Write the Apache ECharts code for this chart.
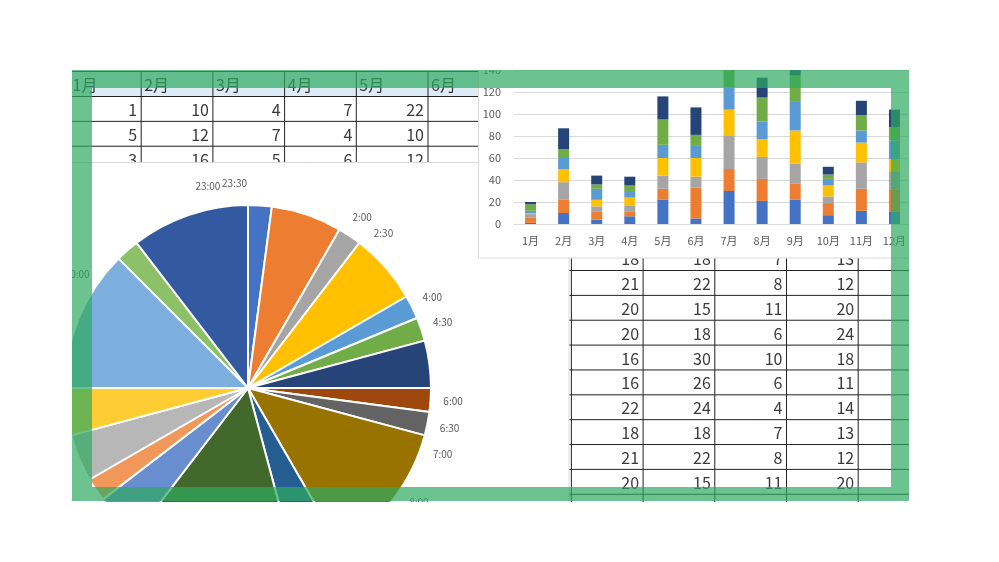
<!DOCTYPE html>
<html><head><meta charset="utf-8">
<script src="https://cdn.jsdelivr.net/npm/echarts@6/dist/echarts.min.js"></script>
<style>html,body{margin:0;padding:0;background:#fff}#c{width:999px;height:562px}</style>
</head><body><div id="c"></div>
<script>
// ---- data ----
const months = ['1月','2月','3月','4月','5月','6月','7月','8月','9月','10月','11月','12月'];
const row1 = [1,10,4,7,22,5,30,21,22,8,12,11];
const row2 = [5,12,7,4,10,28,20,20,15,11,20,20];
const row3 = [3,16,5,6,12,10,30,20,18,6,24,17];
const row4 = [1,12,6,7,16,17,24,16,30,10,18,11];
const row5 = [2,10,10,6,12,11,20,16,26,6,11,17];
const row6 = [6,8,4,5,23,10,16,22,24,4,14,12];
const row7 = [2,19,8,8,21,25,20,18,18,7,13,16];
const yTicks = [0,20,40,60,80,100,120,140];
// pie: half-hour slots per slice (48 slots = 24h)
const pieSlots = [1,3,1,3,1,1,2,1,1,6,2,7,2,1,2,2,6,1,5];
const clockLabels = ['20:00','23:00','23:30','2:00','2:30','4:00','4:30','6:00','6:30','7:00','8:00'];

// ---- styles ----
const rows = [row1,row2,row3,row4,row5,row6,row7];
const barColors = ['#4472C4','#ED7D31','#A5A5A5','#FFC000','#5B9BD5','#70AD47','#264478'];
const pieColors = ['#4472C4','#ED7D31','#A5A5A5','#FFC000','#5B9BD5','#70AD47','#264478',
  '#9E480E','#636363','#997300','#255E91','#43682B','#698ED0','#F1975A','#B7B7B7','#FFCD33',
  '#7CAFDD','#8CC168','#335AA1'];
const FONT = "'Noto Sans CJK JP','Noto Sans',sans-serif";

const slotNames = [];
for (let i = 0; i < 48; i++) slotNames.push(Math.floor(i/2) + ':' + (i%2 ? '30' : '00'));

// ---- spreadsheet (graphic) ----
const colX0 = 69.5, colW = 71.7, tableTop = 71.5, headerH = 25, rowH = 24.86, nRows = 18;
const tableRight = colX0 + 12*colW;
const tableBottom = tableTop + headerH + nRows*rowH;
const g = [];
g.push({type:'rect', z:1, silent:true, shape:{x:colX0, y:tableTop, width:12*colW, height:headerH}, style:{fill:'#DDEBF7'}});
const hl = (y)=>g.push({type:'line', z:1, silent:true, shape:{x1:colX0, y1:y, x2:tableRight, y2:y}, style:{stroke:'#222', lineWidth:1}});
hl(tableTop);
for (let k = 0; k <= nRows; k++) hl(tableTop + headerH + k*rowH);
for (let j = 0; j <= 12; j++) {
  const x = colX0 + j*colW;
  g.push({type:'line', z:1, silent:true, shape:{x1:x, y1:tableTop, x2:x, y2:tableBottom}, style:{stroke:'#222', lineWidth:1}});
}
months.forEach((m, j) => {
  g.push({type:'text', z:1, silent:true, style:{x: colX0 + j*colW + 3, y: tableTop + headerH/2 + 1, text:m, fill:'#333', font:'16px ' + FONT, textAlign:'left', textVerticalAlign:'middle'}});
});
for (let r = 0; r < nRows; r++) {
  const data = rows[r % 7];
  const yc = tableTop + headerH + r*rowH + rowH/2 + 1;
  for (let j = 0; j < 12; j++) {
    g.push({type:'text', z:1, silent:true, style:{x: colX0 + (j+1)*colW - 4, y: yc, text:String(data[j]), fill:'#3a3a3a', font:'16px ' + FONT, textAlign:'right', textVerticalAlign:'middle'}});
  }
}
// chart object boxes
g.push({type:'rect', z:2, silent:true, shape:{x:40, y:162.5, width:529, height:420}, style:{fill:'#fff', stroke:'#D9D9D9', lineWidth:1}});
g.push({type:'rect', z:4, silent:true, shape:{x:478.5, y:30, width:520, height:228}, style:{fill:'#fff', stroke:'#D9D9D9', lineWidth:1}});
// screenshot clipping masks
[[0,0,72,562],[909,0,90,562],[0,0,999,70],[0,502,999,60]].forEach(r=>{
  g.push({type:'rect', z:10, silent:true, shape:{x:r[0], y:r[1], width:r[2], height:r[3]}, style:{fill:'#fff'}});
});
// green frame
const band = 'rgba(46,170,96,0.7)';
[[72,70,837,18],[72,487,837,14],[72,88,20,399],[891,88,18,399]].forEach(r=>{
  g.push({type:'rect', z:11, silent:true, shape:{x:r[0], y:r[1], width:r[2], height:r[3]}, style:{fill:band}});
});

// ---- chart ----
const chart = echarts.init(document.getElementById('c'), null, {renderer:'canvas'});
const series = [
  {
    type:'pie', z:3, silent:true, animation:false,
    center:[248,388], radius:183, startAngle:90, clockwise:true,
    label:{show:false}, labelLine:{show:false},
    itemStyle:{borderColor:'#fff', borderWidth:2},
    data: pieSlots.map((v,i)=>({value:v, name:'項目'+(i+1), itemStyle:{color:pieColors[i]}}))
  },
  {
    type:'pie', z:3, silent:true, animation:false,
    center:[248,388], radius:[191,214], startAngle:90, clockwise:true,
    minShowLabelAngle:0, avoidLabelOverlap:false,
    labelLayout:{hideOverlap:false},
    itemStyle:{color:'rgba(0,0,0,0)', borderWidth:0},
    label:{show:true, position:'inside', color:'#595959', fontSize:10, fontFamily:FONT, overflow:'none',
      formatter: p => clockLabels.indexOf(p.name) >= 0 ? p.name : ''},
    labelLine:{show:false},
    data: slotNames.map(n=>({value:1, name:n}))
  }
];
rows.forEach((d,i)=>{
  series.push({type:'bar', stack:'total', z:5, silent:true, animation:false, barWidth:11,
    itemStyle:{color:barColors[i]}, data:d});
});
chart.setOption({
  backgroundColor:'#fff',
  animation:false,
  textStyle:{fontFamily:FONT},
  graphic:{elements:g},
  grid:{left:514, top:70, width:397, height:154, containLabel:false},
  xAxis:{type:'category', data:months, z:5,
    axisLine:{lineStyle:{color:'#D9D9D9'}}, axisTick:{show:false},
    axisLabel:{color:'#595959', fontSize:11, margin:11, fontFamily:FONT}},
  yAxis:{type:'value', min:yTicks[0], max:yTicks[yTicks.length-1], interval:yTicks[1]-yTicks[0], z:5,
    axisLine:{show:false}, axisTick:{show:false},
    splitLine:{lineStyle:{color:'#D9D9D9'}},
    axisLabel:{color:'#595959', fontSize:11, margin:13, fontFamily:FONT}},
  series: series
});
</script>
</body></html>
